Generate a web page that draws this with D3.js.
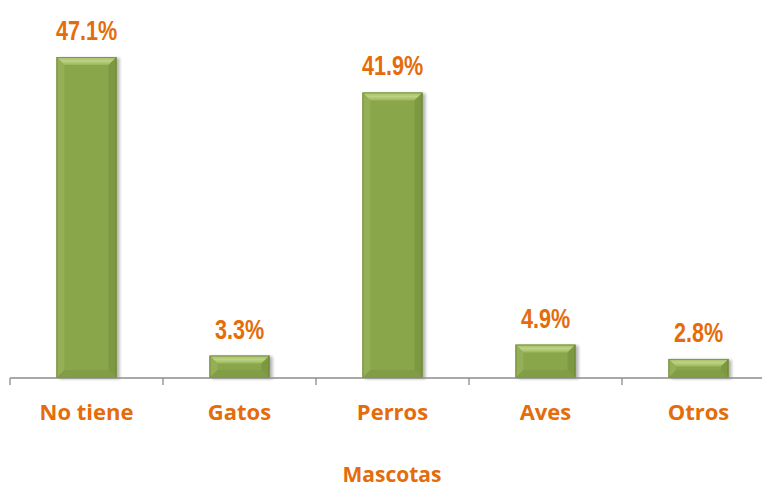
<!DOCTYPE html>
<html>
<head>
<meta charset="utf-8">
<script src="https://cdn.jsdelivr.net/npm/d3@7"></script>
<style>
  html, body { margin: 0; padding: 0; background: #fff; }
  svg { display: block; }
</style>
</head>
<body>
<svg id="chart" width="762" height="487"></svg>
<script>
// Data
const categories = ["No tiene", "Gatos", "Perros", "Aves", "Otros"];
const values = [47.1, 3.3, 41.9, 4.9, 2.8];
const valueLabels = ["47.1%", "3.3%", "41.9%", "4.9%", "2.8%"];
const axisTitle = "Mascotas";

const svg = d3.select("#chart");
const orange = "#E46C0A";
const baseY = 378;

const x = d3.scaleBand()
    .domain(categories)
    .range([10, 775])
    .paddingInner(0.607)
    .paddingOuter(0.3035);

const y = d3.scaleLinear()
    .domain([0, 47.1])
    .range([baseY, 57]);

const defs = svg.append("defs");

// soft shadow
const filt = defs.append("filter").attr("id", "shadow")
    .attr("x", "-20%").attr("y", "-20%").attr("width", "150%").attr("height", "140%");
filt.append("feGaussianBlur").attr("in", "SourceAlpha").attr("stdDeviation", 1.6);
filt.append("feOffset").attr("dx", 2.5).attr("dy", 1).attr("result", "ob");
filt.append("feComponentTransfer").append("feFuncA").attr("type", "linear").attr("slope", 0.3);
const merge = filt.append("feMerge");
merge.append("feMergeNode");
merge.append("feMergeNode").attr("in", "SourceGraphic");

const topGrad = defs.append("linearGradient").attr("id", "topBevel")
    .attr("x1", 0).attr("y1", 0).attr("x2", 0).attr("y2", 1);
topGrad.append("stop").attr("offset", "0%").attr("stop-color", "#a3bd63");
topGrad.append("stop").attr("offset", "50%").attr("stop-color", "#bcd383");
topGrad.append("stop").attr("offset", "100%").attr("stop-color", "#9cb65b");

// Bars
const bars = svg.append("g").selectAll("g.bar")
    .data(categories.map((c, i) => ({ cat: c, v: values[i], label: valueLabels[i] })))
    .join("g")
    .attr("class", "bar");

const bev = 8;
bars.each(function(d) {
    const g = d3.select(this);
    const x0 = x(d.cat), w = x.bandwidth();
    const y0 = y(d.v), h = baseY - y0;
    const b = Math.min(bev, h / 2.5);
    g.append("rect")
        .attr("x", x0).attr("y", y0).attr("width", w).attr("height", h)
        .attr("fill", "#8aa64b")
        .attr("filter", "url(#shadow)");
    // top bevel
    g.append("path")
        .attr("d", `M${x0},${y0}L${x0 + w},${y0}L${x0 + w - b},${y0 + b}L${x0 + b},${y0 + b}Z`)
        .attr("fill", "url(#topBevel)");
    // left bevel
    g.append("path")
        .attr("d", `M${x0},${y0}L${x0 + b},${y0 + b}L${x0 + b},${baseY - b}L${x0},${baseY}Z`)
        .attr("fill", "#94af55");
    // right bevel
    g.append("path")
        .attr("d", `M${x0 + w},${y0}L${x0 + w - b},${y0 + b}L${x0 + w - b},${baseY - b}L${x0 + w},${baseY}Z`)
        .attr("fill", "#7c9841");
    // bottom bevel
    g.append("path")
        .attr("d", `M${x0},${baseY}L${x0 + b},${baseY - b}L${x0 + w - b},${baseY - b}L${x0 + w},${baseY}Z`)
        .attr("fill", "#819d45");
    g.append("rect")
        .attr("x", x0 + 0.5).attr("y", y0 + 0.5).attr("width", w - 1).attr("height", h - 1)
        .attr("fill", "none")
        .attr("stroke", "#5f7530")
        .attr("stroke-opacity", 0.55);
});

// Value labels (condensed look)
bars.append("text")
    .attr("transform", d => `translate(${x(d.cat) + x.bandwidth() / 2},${y(d.v) - 17}) scale(0.8,1)`)
    .attr("text-anchor", "middle")
    .attr("fill", orange)
    .style("font-family", "'Liberation Sans', Arial, sans-serif")
    .style("font-weight", "bold")
    .style("font-size", "27px")
    .text(d => d.label);

// Axis
const axisG = svg.append("g")
    .attr("transform", `translate(0,${baseY})`);
axisG.append("line")
    .attr("x1", 10).attr("x2", 775)
    .attr("stroke", "#8c8c8c").attr("stroke-width", 1.3);
const tickPos = categories.map(c => x(c) - x.step() * x.paddingInner() / 2);
tickPos.push(775);
tickPos[0] = 10;
axisG.selectAll("line.tick")
    .data(tickPos)
    .join("line")
    .attr("class", "tick")
    .attr("x1", d => d).attr("x2", d => d)
    .attr("y1", 0).attr("y2", 7)
    .attr("stroke", "#8c8c8c").attr("stroke-width", 1.3);

axisG.selectAll("text.cat")
    .data(categories)
    .join("text")
    .attr("class", "cat")
    .attr("x", d => x(d) + x.bandwidth() / 2)
    .attr("y", 42)
    .attr("text-anchor", "middle")
    .attr("fill", orange)
    .style("font-family", "'Open Sans', sans-serif")
    .style("font-weight", "bold")
    .style("font-size", "22px")
    .text(d => d);

svg.append("text")
    .attr("x", 392)
    .attr("y", 482)
    .attr("text-anchor", "middle")
    .attr("fill", orange)
    .style("font-family", "'Open Sans', sans-serif")
    .style("font-weight", "bold")
    .style("font-size", "21px")
    .text(axisTitle);
</script>
</body>
</html>
